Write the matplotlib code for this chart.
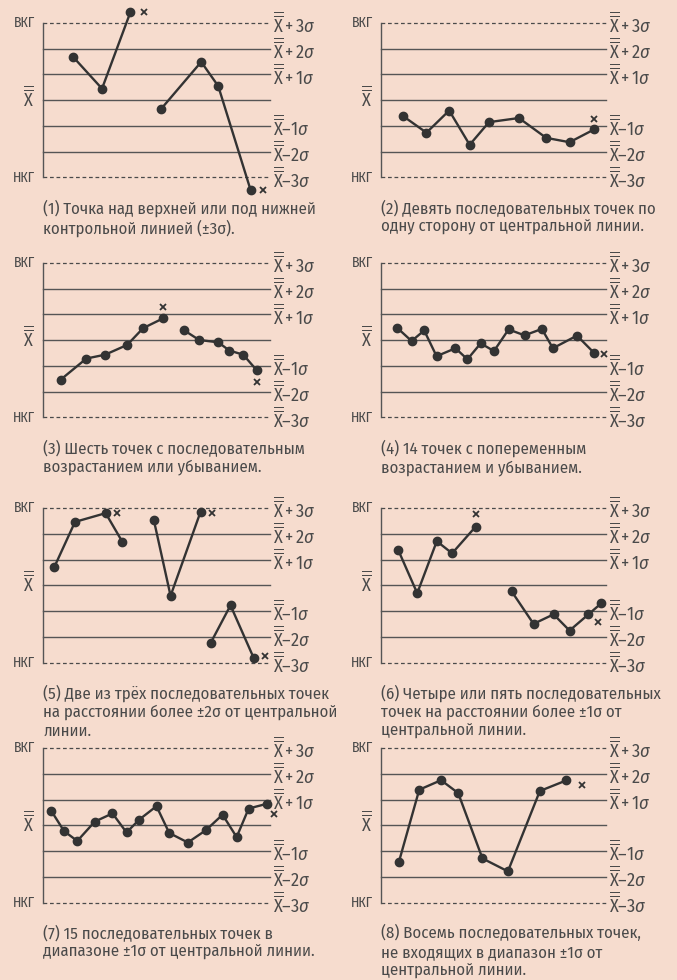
import matplotlib.pyplot as plt

plt.rcParams["font.family"] = ["Fira Sans Condensed", "DejaVu Sans"]
plt.rcParams["mathtext.fontset"] = "custom"
plt.rcParams["mathtext.rm"] = "Fira Sans Condensed"
plt.rcParams["mathtext.it"] = "Fira Sans Condensed:italic"
plt.rcParams["mathtext.bf"] = "Fira Sans Condensed:bold"

BG = "#f6dcce"
INK = "#333333"
TEXT = "#4a4a4a"

# Point positions: x is 0..100 across the chart, y is in units of sigma.
p1_x = [[13.2, 26.0, 38.5], [52.1, 69.7, 77.2, 91.5]]
p1_y = [[1.69, 0.45, 3.42], [-0.33, 1.49, 0.55, -3.5]]
p1_flag_x = [44.4, 97.1]
p1_flag_y = [3.42, -3.5]

p2_x = [[9.9, 20.2, 30.3, 39.4, 48.0, 61.3, 73.4, 83.8, 94.8]]
p2_y = [[-0.62, -1.26, -0.40, -1.73, -0.85, -0.69, -1.46, -1.63, -1.13]]
p2_flag_x = [94.5]
p2_flag_y = [-0.71]

p3_x = [[7.8, 19.1, 27.4, 37.1, 44.1, 52.9], [62.1, 68.8, 77.2, 82.1, 88.2, 94.1]]
p3_y = [[-1.53, -0.71, -0.56, -0.18, 0.47, 0.85], [0.39, 0.01, -0.08, -0.40, -0.56, -1.16]]
p3_flag_x = [52.9, 94.1]
p3_flag_y = [1.29, -1.64]

p4_x = [[7.1, 13.6, 19.2, 24.7, 33.1, 38.4, 44.3, 50.2, 56.7, 63.8, 71.5, 76.4, 87.1, 94.8]]
p4_y = [[0.49, -0.03, 0.38, -0.62, -0.31, -0.74, -0.12, -0.42, 0.42, 0.19, 0.44, -0.31, 0.18, -0.50]]
p4_flag_x = [99.3]
p4_flag_y = [-0.54]

p5_x = [[4.9, 14.1, 27.6, 35.0], [48.8, 56.2, 69.4], [73.8, 82.6, 92.9]]
p5_y = [[0.69, 2.46, 2.80, 1.68], [2.54, -0.41, 2.85], [-2.25, -0.78, -2.84]]
p5_flag_x = [32.4, 74.3, 97.8]
p5_flag_y = [2.80, 2.80, -2.75]

p6_x = [[7.7, 16.1, 24.8, 31.6, 42.1], [58.0, 67.8, 76.7, 83.8, 92.2, 97.9]]
p6_y = [[1.36, -0.31, 1.71, 1.24, 2.28], [-0.23, -1.50, -1.13, -1.76, -1.13, -0.70]]
p6_flag_x = [42.1, 96.6]
p6_flag_y = [2.76, -1.42]

p7_x = [[3.7, 9.3, 15.1, 22.8, 30.6, 36.8, 42.4, 50.0, 55.6, 63.8, 71.8, 79.1, 85.3, 90.6, 98.5]]
p7_y = [[0.55, -0.23, -0.61, 0.14, 0.46, -0.28, 0.22, 0.74, -0.30, -0.67, -0.19, 0.41, -0.46, 0.65, 0.83]]
p7_flag_x = [101.8]
p7_flag_y = [0.43]

p8_x = [[8.0, 17.0, 26.7, 34.3, 45.1, 56.4, 70.6, 82.3]]
p8_y = [[-1.41, 1.38, 1.75, 1.25, -1.29, -1.79, 1.33, 1.74]]
p8_flag_x = [89.2]
p8_flag_y = [1.55]

captions = [
    "(1) Точка над верхней или под нижней\nконтрольной линией (±3σ).",
    "(2) Девять последовательных точек по\nодну сторону от центральной линии.",
    "(3) Шесть точек с последовательным\nвозрастанием или убыванием.",
    "(4) 14 точек с попеременным\nвозрастанием и убыванием.",
    "(5) Две из трёх последовательных точек\nна расстоянии более ±2σ от центральной\nлинии.",
    "(6) Четыре или пять последовательных\nточек на расстоянии более ±1σ от\nцентральной линии.",
    "(7) 15 последовательных точек в\nдиапазоне ±1σ от центральной линии.",
    "(8) Восемь последовательных точек,\nне входящих в диапазон ±1σ от\nцентральной линии.",
]

panels = [
    (p1_x, p1_y, p1_flag_x, p1_flag_y),
    (p2_x, p2_y, p2_flag_x, p2_flag_y),
    (p3_x, p3_y, p3_flag_x, p3_flag_y),
    (p4_x, p4_y, p4_flag_x, p4_flag_y),
    (p5_x, p5_y, p5_flag_x, p5_flag_y),
    (p6_x, p6_y, p6_flag_x, p6_flag_y),
    (p7_x, p7_y, p7_flag_x, p7_flag_y),
    (p8_x, p8_y, p8_flag_x, p8_flag_y),
]

XX = r"\overline{\overline{\mathrm{X}}}"
right_labels = {
    3: rf"${XX}+3\sigma$",
    2: rf"${XX}+2\sigma$",
    1: rf"${XX}+1\sigma$",
    -1: rf"${XX}$–1$\sigma$",
    -2: rf"${XX}$–2$\sigma$",
    -3: rf"${XX}$–3$\sigma$",
}

W, H = 677, 980
fig = plt.figure(figsize=(W / 100, H / 100), dpi=100, facecolor=BG)

col_left = [43, 381]
col_width = [227, 225]
row_top = [23, 263, 508, 748]
row_height = 154.5

for i, (xs, ys, fx, fy) in enumerate(panels):
    r, c = divmod(i, 2)
    left = col_left[c] / W
    bottom = (H - row_top[r] - row_height) / H
    ax = fig.add_axes([left, bottom, col_width[c] / W, row_height / H])
    ax.set_xlim(0, 100)
    ax.set_ylim(-3, 3)
    ax.axis("off")

    # Control limits (dashed) and sigma lines (solid).
    for lvl in [3, -3]:
        ax.plot([0, 100], [lvl, lvl], color=TEXT, lw=0.9, ls=(0, (3, 2.2)), clip_on=False)
    for lvl in [2, 1, 0, -1, -2]:
        ax.plot([0, 100], [lvl, lvl], color="#555555", lw=1.0, clip_on=False)
    ax.plot([0, 0], [-3, 3], color="#555555", lw=1.0, clip_on=False)

    # Data series.
    for sx, sy in zip(xs, ys):
        ax.plot(sx, sy, color=INK, lw=1.7, marker="o", ms=6,
                solid_joinstyle="round", clip_on=False, zorder=3)
    ax.plot(fx, fy, ls="none", marker="x", ms=4.2, mew=1.3, color=INK,
            clip_on=False, zorder=3)

    # Labels on the left.
    ax.text(-3.5, 3, "ВКГ", ha="right", va="center", fontsize=10, color=TEXT)
    ax.text(-3.5, -3, "НКГ", ha="right", va="center", fontsize=10, color=TEXT)
    ax.text(-6.5, 0.1, rf"${XX}$", ha="center", va="center", fontsize=13, color=TEXT)

    # Labels on the right.
    for lvl, lab in right_labels.items():
        ax.text(1.2 + 100, lvl - 0.03, lab, ha="left", va="center", fontsize=13, color=TEXT)

    # Caption.
    ax.text(0, -3.85, captions[i], ha="left", va="top", fontsize=12,
            color=TEXT, linespacing=1.2)

fig.savefig("out.png", dpi=100, facecolor=BG)
